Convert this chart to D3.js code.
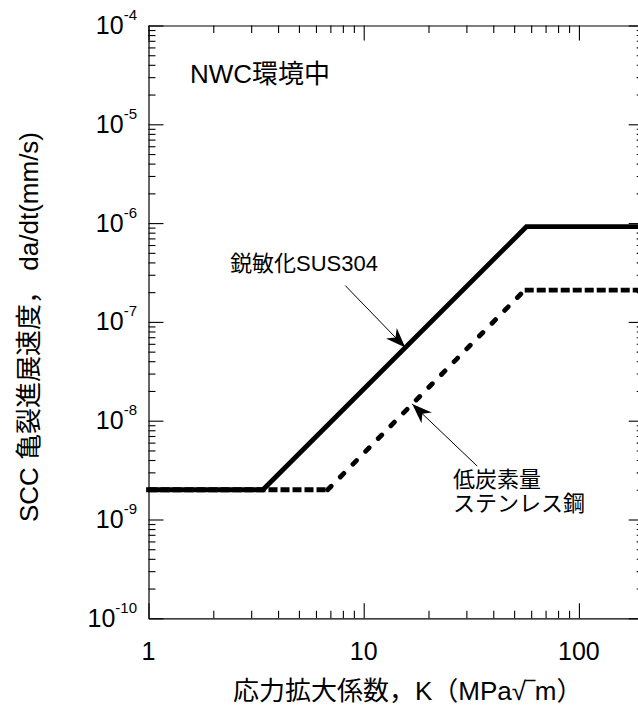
<!DOCTYPE html>
<html>
<head>
<meta charset="utf-8">
<script src="https://cdn.jsdelivr.net/npm/d3@7"></script>
<style>
    body { margin: 0; background: #fff; }
    svg { display: block; }
    text { font-family: "Liberation Sans", Arial, "Noto Sans CJK JP", sans-serif; fill: #000; }
</style>
</head>
<body>
<svg id="chart"></svg>
<script>
// SCC crack growth rate vs stress intensity factor (NWC environment)
let sus304K = [1, 3.4, 57, 200];
let sus304Rate = [2e-9, 2e-9, 9.2e-7, 9.2e-7];
let lowCarbonK = [1, 6.8, 56, 200];
let lowCarbonRate = [2e-9, 2e-9, 2.1e-7, 2.1e-7];
let xTickValues = [1, 10, 100];
let xTickLabels = ['1', '10', '100'];
let yTickExponents = [-4, -5, -6, -7, -8, -9, -10];

let width = 638;
let height = 708;
let plot = {left: 148.5, right: 643.7, top: 25.5, bottom: 618.3};

let svg = d3.select('#chart')
    .attr('width', width)
    .attr('height', height);

let xScale = d3.scaleLog()
    .domain([1, 200])
    .range([plot.left, plot.right]);

let yScale = d3.scaleLog()
    .domain([1e-10, 1e-4])
    .range([plot.bottom, plot.top]);

// minor ticks 2..9 in every decade
let xMinor = [];
for (let e = 0; e <= 2; e++) {
    for (let m = 2; m <= 9; m++) {
        if (m * Math.pow(10, e) <= 200) xMinor.push(m * Math.pow(10, e));
    }
}
let yMinor = [];
for (let e = -10; e < -4; e++) {
    for (let m = 2; m <= 9; m++) yMinor.push(m * Math.pow(10, e));
}

function styleAxis(g) {
    g.selectAll('path.domain').attr('stroke', '#000').attr('stroke-width', 1.2);
    g.selectAll('.tick line').attr('stroke', '#000').attr('stroke-width', 1.1);
    g.selectAll('.tick text').remove();
}

function addAxis(axisFn, scale, values, size, transform, keepDomain) {
    let g = svg.append('g')
        .attr('transform', transform)
        .call(axisFn(scale).tickValues(values).tickSizeInner(-size).tickSizeOuter(0).tickFormat(''));
    styleAxis(g);
    if (!keepDomain) g.select('path.domain').remove();
}

let yMajor = yTickExponents.map(function (e) { return Math.pow(10, e); });

// frame + major ticks
addAxis(d3.axisBottom, xScale, xTickValues, 15, 'translate(0,' + plot.bottom + ')', true);
addAxis(d3.axisTop, xScale, xTickValues, 15, 'translate(0,' + plot.top + ')', true);
addAxis(d3.axisLeft, yScale, yMajor, 15, 'translate(' + plot.left + ',0)', true);
addAxis(d3.axisRight, yScale, yMajor, 15, 'translate(' + plot.right + ',0)', true);
// minor ticks
addAxis(d3.axisBottom, xScale, xMinor, 7.5, 'translate(0,' + plot.bottom + ')', false);
addAxis(d3.axisTop, xScale, xMinor, 7.5, 'translate(0,' + plot.top + ')', false);
addAxis(d3.axisLeft, yScale, yMinor, 7, 'translate(' + plot.left + ',0)', false);
addAxis(d3.axisRight, yScale, yMinor, 7, 'translate(' + plot.right + ',0)', false);

// tick labels
svg.selectAll('.x-label')
    .data(xTickValues)
    .enter()
    .append('text')
    .attr('class', 'x-label')
    .attr('x', function (d) { return xScale(d); })
    .attr('y', 660)
    .attr('text-anchor', 'middle')
    .style('font-size', '25px')
    .text(function (d, i) { return xTickLabels[i]; });

let yLabels = svg.selectAll('.y-label')
    .data(yTickExponents)
    .enter()
    .append('text')
    .attr('class', 'y-label')
    .attr('x', 137)
    .attr('y', function (d) { return yScale(Math.pow(10, d)) + 8.5; })
    .attr('text-anchor', 'end');
yLabels.append('tspan')
    .style('font-size', '25px')
    .text('10');
yLabels.append('tspan')
    .attr('dy', -14)
    .style('font-size', '15px')
    .text(function (d) { return String(d); });

// axis titles
svg.append('text')
    .attr('x', 233)
    .attr('y', 700)
    .style('font-size', '26px')
    .text('応力拡大係数，K（MPa√‾m）');

svg.append('text')
    .attr('transform', 'translate(38,522) rotate(-90)')
    .attr('text-anchor', 'start')
    .style('font-size', '26px')
    .text('SCC 亀裂進展速度， da/dt(mm/s)');

// lines
function toPoints(ks, rates) {
    return ks.map(function (k, i) { return {k: k, r: rates[i]}; });
}
let sus304 = toPoints(sus304K, sus304Rate);
let lowCarbon = toPoints(lowCarbonK, lowCarbonRate);

let line = d3.line()
    .x(function (d) { return xScale(d.k); })
    .y(function (d) { return yScale(d.r); });

// low carbon: each segment dashed on its own
let segDash = ['9,3', '5,13', '9,3'];
for (let i = 0; i < lowCarbon.length - 1; i++) {
    svg.append('path')
        .datum([lowCarbon[i], lowCarbon[i + 1]])
        .attr('d', line)
        .attr('fill', 'none')
        .attr('stroke', '#000')
        .attr('stroke-width', 4.8)
        .attr('stroke-dasharray', segDash[i])
        .attr('stroke-linecap', i === 1 ? 'round' : 'butt');
}

svg.append('path')
    .datum(sus304)
    .attr('d', line)
    .attr('fill', 'none')
    .attr('stroke', '#000')
    .attr('stroke-width', 4.8)
    .attr('stroke-linejoin', 'miter')
    .attr('stroke-linecap', 'square');

// point on a series at a given K (log interpolation)
function rateAt(points, k) {
    for (let i = 0; i < points.length - 1; i++) {
        let a = points[i], b = points[i + 1];
        if (k >= a.k && k <= b.k) {
            let t = (Math.log(k) - Math.log(a.k)) / (Math.log(b.k) - Math.log(a.k));
            return Math.exp(Math.log(a.r) + t * (Math.log(b.r) - Math.log(a.r)));
        }
    }
    return points[points.length - 1].r;
}

svg.append('defs').append('marker')
    .attr('id', 'arrow')
    .attr('viewBox', '-21 -8 22 16')
    .attr('refX', 0)
    .attr('refY', 0)
    .attr('markerWidth', 22)
    .attr('markerHeight', 16)
    .attr('markerUnits', 'userSpaceOnUse')
    .attr('orient', 'auto')
    .append('path')
    .attr('d', 'M0,0L-20,-7.5L-14,0L-20,7.5Z')
    .attr('fill', '#000');

function annotate(points, k, dx, dy) {
    let tx = xScale(k), ty = yScale(rateAt(points, k));
    svg.append('line')
        .attr('x1', tx + dx)
        .attr('y1', ty + dy)
        .attr('x2', tx)
        .attr('y2', ty)
        .attr('stroke', '#000')
        .attr('stroke-width', 1)
        .attr('marker-end', 'url(#arrow)');
}

annotate(sus304, 15.6, -60, -62);
annotate(lowCarbon, 16.8, 65, 62);

svg.append('text')
    .attr('x', 190)
    .attr('y', 83)
    .style('font-size', '26px')
    .text('NWC環境中');

svg.append('text')
    .attr('x', 230)
    .attr('y', 271)
    .style('font-size', '22px')
    .text('鋭敏化SUS304');

let lowLabel = svg.append('text')
    .attr('x', 453)
    .attr('y', 487)
    .style('font-size', '22px');
lowLabel.append('tspan').attr('x', 453).text('低炭素量');
lowLabel.append('tspan').attr('x', 453).attr('dy', 24).text('ステンレス鋼');
</script>
</body>
</html>
